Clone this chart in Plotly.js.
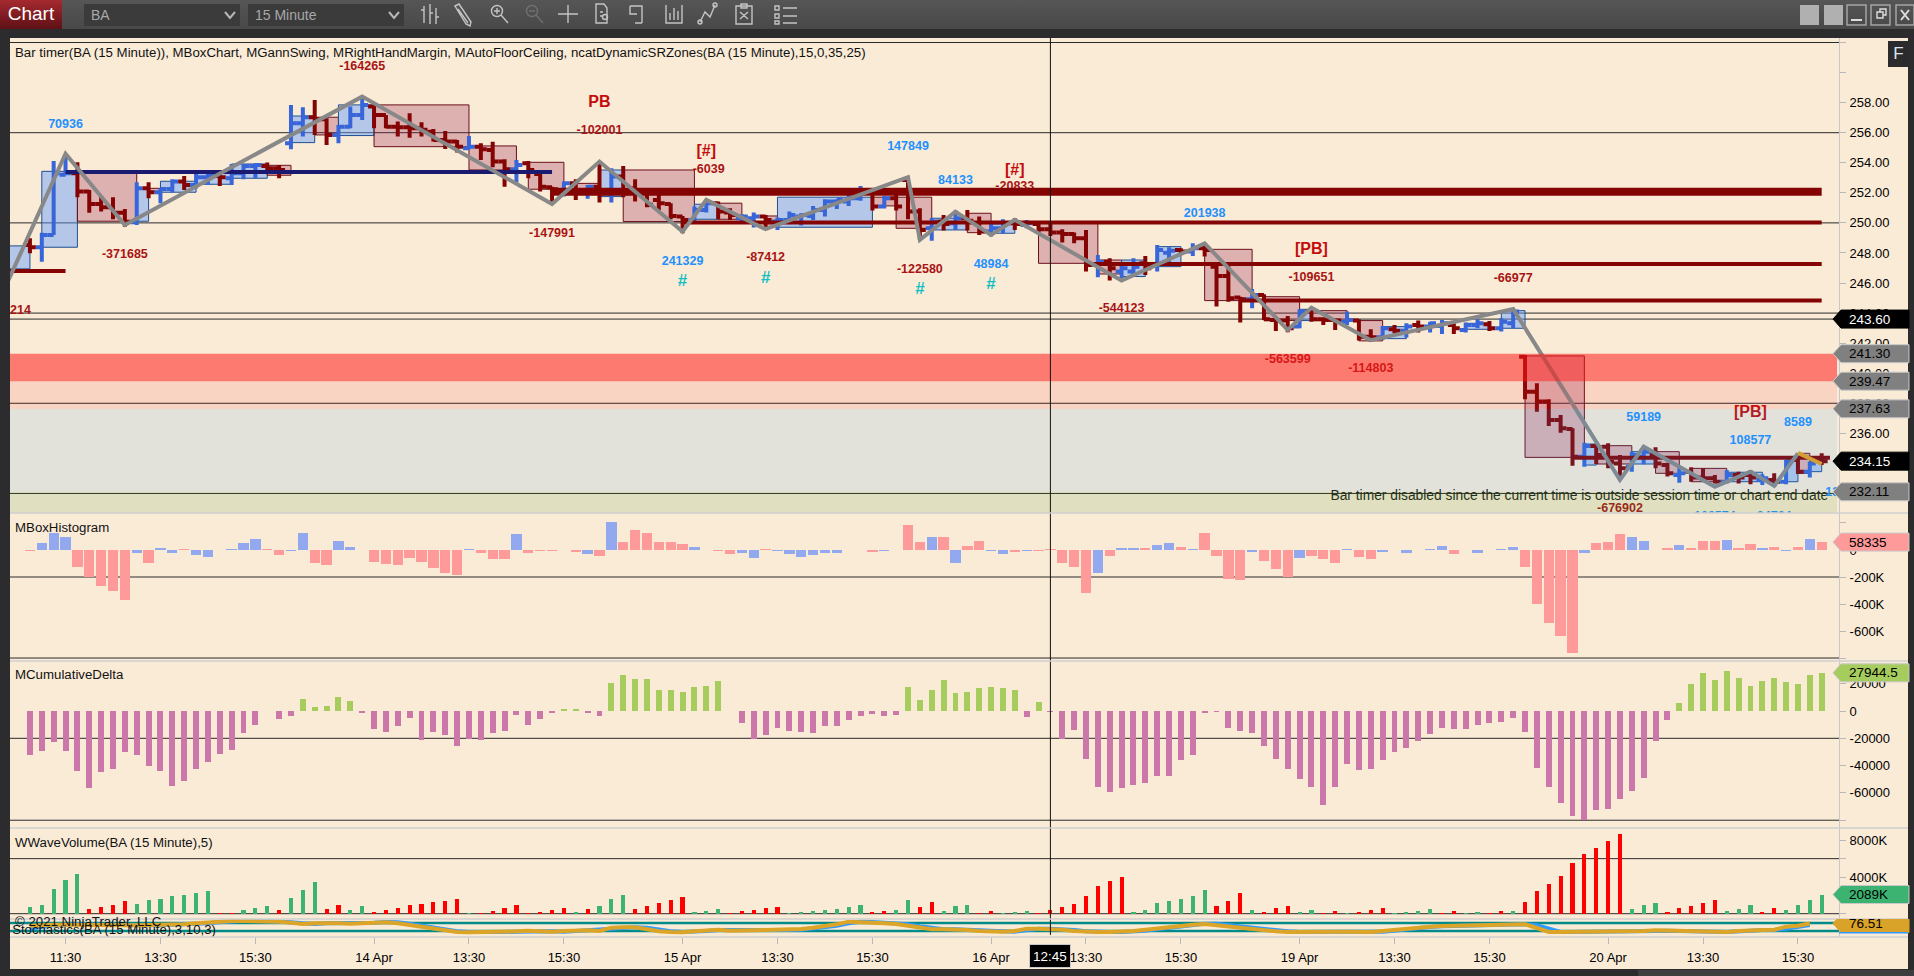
<!DOCTYPE html>
<html>
<head>
<meta charset="utf-8">
<script src="https://cdn.plot.ly/plotly-3.0.1.min.js"></script>
<style>
html,body{margin:0;padding:0;width:1914px;height:976px;overflow:hidden;background:#2c2c2e;font-family:"Liberation Sans",Arial,sans-serif}
.abs{position:absolute}
#bar{left:0;top:0;width:1914px;height:29px;background:linear-gradient(#565656,#484848)}
#btn{left:0;top:0;width:62px;height:29px;background:linear-gradient(#a52a30,#5e1015);color:#fff;font-size:19px;line-height:28px;text-align:center}
.dd{top:4px;height:22px;width:156px;background:#3b3b3b;color:#a8a8a8;font-size:14px;line-height:22px;text-indent:7px}
#paper{left:10px;top:38px;width:1898px;height:931px;background:#faebd7}
#F{left:1888px;top:41px;width:21px;height:26px;background:#2b2b2d;color:#d8e4f0;font-size:17px;line-height:26px;text-align:center}
#chart{left:0;top:0;width:1914px;height:976px}
#scroll{left:1638px;top:970px;width:276px;height:6px;background:#3d3d3f}
</style>
</head>
<body>
<div class="abs" id="paper"></div>
<div class="abs" id="bar"></div>
<div class="abs" id="btn">Chart</div>
<div class="abs dd" style="left:84px">BA</div>
<div class="abs dd" style="left:248px">15 Minute</div>
<svg class="abs" style="left:0;top:0" width="1914" height="29" fill="none" stroke="#c4c4c4" stroke-width="1.4">
  <path d="M225 12l5 6 5-6M389 12l5 6 5-6" stroke="#b8b8b8" stroke-width="2"/>
  <path d="M424 6v17M430 4v20M436 8v16M421 10h3M430 13h3M436 17h3"/>
  <path d="M455 6l4-2 12 18-1 4-4-2zM458 9l10 14"/>
  <circle cx="497" cy="11" r="5.5"/><path d="M501 15l7 8M494 11h6M497 8v6"/>
  <circle cx="532" cy="11" r="5.5" stroke="#707070"/><path d="M536 15l7 8M529 11h6" stroke="#707070"/>
  <path d="M568 5v18M558 14h20"/>
  <path d="M596 4h8l3 4v15h-11zM600 12h3M600 16h2"/><circle cx="605" cy="17" r="2.5"/>
  <path d="M630 6h12v17M630 6v8h7M635 23h7"/>
  <path d="M666 5v18h16V5M670 20v-7M674 20V8M678 20v-9"/>
  <path d="M700 22l5-10 5 5 5-12"/><circle cx="700" cy="22" r="2"/><circle cx="715" cy="5" r="2"/>
  <path d="M736 6h16v18h-16zM741 4h6v4h-6zM740 12l8 7M748 12l-8 7"/>
  <path d="M775 6h4v4h-4zM775 14h4v4h-4zM775 21h4v3h-4zM783 8h14M783 16h14M783 23h14"/>
  <rect x="1800" y="5" width="19" height="20" fill="#b0b0b0" stroke="none"/>
  <rect x="1824" y="5" width="19" height="20" fill="#b0b0b0" stroke="none"/>
  <rect x="1847" y="5" width="19" height="20" stroke="#aaa"/><path d="M1851 20h11" stroke="#ddd" stroke-width="2"/>
  <rect x="1871" y="5" width="19" height="20" stroke="#aaa"/><path d="M1877 12h6v6h-6zM1880 12V9h6v6h-3" stroke="#ddd"/>
  <rect x="1896" y="5" width="18" height="20" stroke="#aaa"/><path d="M1901 10l8 10M1909 10l-8 10" stroke="#ddd" stroke-width="2"/>
</svg>
<div class="abs" id="scroll"></div>
<div class="abs" id="chart"></div>
<div class="abs" id="F">F</div>
<script>
// ---- time scale ----
const firstBar = -3;
const tickBars = [0,8,16,26,34,42,52,60,68,78,86,94,104,112,120,130,138,146];
const tickNames = ['11:30','13:30','15:30','14 Apr','13:30','15:30','15 Apr','13:30','15:30','16 Apr','13:30','15:30','19 Apr','13:30','15:30','20 Apr','13:30','15:30'];
const cursorBar = 83, cursorName = '12:45';

// ---- price bars, from bar -3 to bar 148 ----
const opens = [248.53,248.38,249.20,253.20,253.30,252.08,251.26,251.04,250.68,250.04,
252.30,252.04,252.26,252.75,252.52,253.03,253.12,252.97,253.30,253.79,
253.79,253.63,255.30,256.63,257.03,256.89,255.85,256.40,257.18,257.74,
257.18,256.40,256.36,256.30,256.07,255.52,255.41,254.96,255.07,254.85,
254.08,253.57,253.97,253.26,252.37,251.97,252.63,252.08,252.41,251.97,
253.08,252.30,251.97,251.53,251.26,250.42,250.20,250.86,251.31,250.69,
250.31,250.31,250.42,250.09,250.20,250.42,250.46,250.86,251.42,251.42,
251.64,252.08,251.09,251.64,252.86,250.75,249.64,250.10,249.97,250.31,
249.97,249.42,249.64,249.97,249.86,249.93,249.57,249.36,249.26,248.98,
247.20,247.42,246.76,246.76,247.31,247.20,248.02,248.20,248.09,248.31,
247.09,246.47,245.03,244.92,245.21,243.54,243.50,243.10,244.10,243.59,
243.54,243.43,243.50,242.43,242.39,242.92,242.83,243.21,243.10,243.14,
243.21,242.88,243.21,243.25,242.99,243.32,241.10,238.77,238.11,236.89,
236.29,234.45,235.16,235.11,234.00,233.78,234.45,234.56,233.89,233.23,
233.45,233.07,233.01,232.78,233.23,233.23,232.90,232.90,232.78,234.23,
233.45,234.25];
const highs = [248.97,249.35,254.12,254.59,254.03,252.19,251.75,251.71,250.93,252.70,
252.70,252.30,252.90,253.12,253.30,253.30,253.52,253.92,253.92,253.97,
254.01,253.85,257.85,257.69,258.18,256.96,256.52,257.74,258.45,257.78,
257.18,256.74,257.29,256.69,256.25,256.12,255.52,255.78,255.30,255.39,
254.23,254.19,254.12,253.30,252.41,252.75,252.90,252.52,254.12,253.63,
253.79,252.90,252.30,251.86,251.31,250.46,251.09,251.57,251.42,250.97,
250.58,250.69,250.53,250.36,250.75,250.64,251.13,251.57,251.57,251.86,
252.46,252.30,251.79,251.86,253.08,250.97,250.31,250.53,250.82,250.86,
250.42,249.93,250.24,250.31,250.20,250.09,249.97,249.57,249.36,249.53,
247.87,247.65,247.20,247.65,247.80,248.53,248.38,248.31,248.64,248.64,
247.20,247.31,245.09,245.60,245.25,243.65,243.81,244.25,244.38,243.72,
243.65,244.10,243.59,242.92,243.14,243.21,243.32,243.50,243.43,243.54,
243.32,243.37,243.59,243.48,243.65,244.32,241.21,239.33,238.26,237.22,
236.33,235.38,235.29,235.34,234.56,234.78,235.11,235.07,234.05,233.67,
233.74,233.67,233.23,233.56,233.45,233.56,233.27,233.34,234.23,234.67,
234.11,234.67];
const lows = [247.98,247.42,249.20,253.19,251.71,250.68,250.75,250.24,249.75,249.86,
251.64,251.30,252.04,252.19,252.28,252.52,252.46,252.52,252.90,252.97,
253.52,252.97,254.90,255.74,255.85,255.19,255.30,256.30,256.85,256.30,
256.30,255.74,255.67,255.74,255.41,254.92,254.68,254.90,254.19,253.70,
252.41,252.68,252.97,252.08,251.19,251.75,251.52,251.61,251.35,251.35,
251.71,251.42,251.04,250.86,250.24,249.31,249.93,250.69,250.24,250.20,
250.09,249.69,249.75,249.53,249.91,249.82,250.20,250.42,250.93,251.13,
251.48,250.82,250.95,250.82,250.24,248.87,248.82,249.49,249.53,249.49,
249.20,249.09,249.31,249.53,249.64,249.31,249.13,248.69,248.64,246.76,
246.38,246.16,246.20,246.43,246.54,246.76,247.31,247.87,247.80,247.76,
244.43,244.76,243.37,244.32,243.54,242.81,242.72,242.99,243.43,243.21,
242.88,243.21,242.17,242.10,242.21,242.66,242.37,242.70,242.70,242.61,
242.61,242.70,242.99,242.81,242.77,242.99,238.26,237.44,236.49,236.04,
233.85,233.78,233.96,233.67,232.90,233.45,233.94,233.67,233.12,232.72,
232.78,232.78,232.67,232.67,232.67,232.61,232.56,232.45,232.61,233.29,
233.07,233.89];
const closes = [248.38,249.20,253.30,253.30,252.08,251.26,251.04,250.68,250.08,252.30,
252.04,252.26,252.75,252.52,253.03,253.12,253.03,253.30,253.79,253.85,
253.63,253.52,256.63,257.03,256.89,255.85,256.40,257.18,257.85,257.18,
256.40,256.36,256.30,256.19,255.52,255.41,255.07,255.07,254.90,254.08,
253.57,253.85,253.52,252.41,252.24,252.63,252.19,252.41,251.97,253.08,
251.97,251.97,251.20,251.31,250.46,250.20,250.86,251.31,250.75,250.53,
250.42,250.42,250.20,250.20,250.53,250.53,250.86,251.42,251.57,251.64,
252.08,251.09,251.64,251.09,250.75,249.53,250.10,249.93,250.31,250.15,
249.42,249.64,249.97,249.93,249.97,249.57,249.36,249.26,248.98,247.20,
247.42,246.98,246.98,247.09,246.98,248.20,248.15,248.09,248.31,248.20,
246.47,244.98,244.92,245.21,243.59,243.50,242.99,244.10,243.59,243.54,
243.50,243.54,242.43,242.39,242.99,242.83,243.10,243.10,243.32,243.32,
242.99,243.21,243.32,242.99,243.43,244.10,238.77,238.11,236.89,236.33,
234.45,235.16,234.56,234.11,233.67,234.56,234.78,234.00,233.34,233.34,
233.07,233.01,232.78,233.23,233.07,233.07,233.01,232.78,234.11,233.45,
234.00,234.15];

// ---- MBoxChart boxes: first bar, last bar, high, low, direction ----
const boxStart = [-5,-2,1,6,7,8,11,14,17,19,21,23,26,34,39,43,45,47,53,55,59,60,68,70,73,76,78,82,87,89,92,96,101,104,105,109,111,118,121,123,128,129,132,134,137,140,145,146,147];
const boxEnd   = [-3,1,6,7,8,11,14,17,19,21,23,26,34,38,42,45,47,53,55,57,60,68,70,73,76,78,80,87,89,91,94,100,104,105,108,111,113,120,123,128,129,132,134,136,140,143,146,147,148];
const boxHigh  = [248.47,253.43,253.30,252.30,252.30,252.77,253.30,253.92,253.83,257.11,257.03,257.85,257.85,255.12,254.03,252.63,253.52,253.52,251.24,251.31,250.46,251.71,251.71,251.71,250.31,250.64,249.93,249.97,247.53,247.53,248.42,248.24,245.09,244.25,244.16,243.50,243.10,243.32,244.16,241.15,235.29,235.18,234.78,234.78,233.67,233.41,234.23,234.67,234.11];
const boxLow   = [246.94,248.38,250.11,250.11,252.08,252.04,252.57,252.97,253.17,255.34,255.85,255.81,255.07,253.52,252.24,252.19,251.75,250.09,250.24,250.24,249.75,249.71,251.13,249.64,249.53,249.35,249.31,247.31,246.60,246.43,247.09,244.83,243.50,243.50,243.50,242.15,242.30,242.92,242.99,234.40,233.89,233.96,233.96,233.34,232.78,232.78,232.78,233.34,233.45];
const boxUp    = [1,1,0,1,0,1,1,1,0,1,0,1,0,0,0,0,1,0,1,0,0,1,0,0,1,0,1,0,0,1,1,0,0,1,0,0,1,1,1,0,1,0,1,0,0,1,1,0,1];

// ---- MGannSwing turning points ----
const swingBar   = [-4.8,0,5,25,41,45,52,54,59,71,72,75,78,80,89,96,103,105,110,122,131,133,139,142,144,146];
const swingPrice = [246.2,254.6,249.86,258.4,251.26,254.08,249.42,251.53,249.58,253.04,248.87,250.75,249.2,250.2,246.16,248.64,242.88,244.36,242.2,244.27,232.9,235.11,232.45,233.45,232.5,234.67];
const swingTailBar = [146,148], swingTailPrice = [234.7,233.96];

// ---- support and resistance levels ----
const levelPrice = [252.07,250.03,247.26,244.83,234.38,246.8];
const levelStart = [41,52,86,99,127,-5];
const levelEnd   = [148,148,148,148,148.7,0];
const navyPrice = 253.39, navyStart = 0, navyEnd = 41;

// ---- auto floor / ceiling zones ----
const zoneTop = [241.30,239.47,237.63,232.11];
const zoneBottom = [239.47,237.63,232.11,230.70];
const priceGrid = [262,256,250,244,243.6,238,232];

// ---- labels on the price panel ----
const labelBar = [0,25,45,41,5,54.2,59,72,89,105,122,103,110,131,80,-3.8, 71,75,52,78,96,133,146,142,139,144, 45,54,80,105,142, 52,59,72,78];
const labelPrice = [256.5,260.35,256.1,249.3,247.9,253.52,247.64,246.9,244.27,246.31,246.27,240.88,240.26,230.97,252.41,244.14, 255.05,252.8,247.42,247.24,250.6,237.06,236.69,235.49,230.45,230.45, 258.0,254.74,253.45,248.2,237.37, 246.1,246.3,245.54,245.87];
const labelText = ['70936','-164265','-102001','-147991','-371685','-6039','-87412','-122580','-544123','-109651','-66977','-563599','-114803','-676902','-20833','214','147849','84133','241329','48984','201938','59189','8589','108577','108574','24704','PB','[#]','[#]','[PB]','[PB]','#','#','#','#'];
const labelKind = ['b','r','r','r','r','r','r','r','r','r','r','r','r','r','r','r','b','b','b','b','b','b','b','b','b','b','p','p','p','p','p','t','t','t','t'];

// ---- MBoxHistogram (thousands) and its side: 1 blue, 0 red ----
const histValues = [-7,52,126,96,-126,-200,-267,-304,-370,-22,-96,15,-22,7,-37,-52,0,7,52,81,7,-37,-7,126,-96,-111,67,22,0,-89,-104,-111,-59,-89,-133,-170,-185,7,-22,-67,-67,119,-22,-7,-7,0,-15,-30,-44,207,59,148,126,59,59,44,22,0,-7,-30,-22,-59,7,-7,-30,-52,-37,-22,-22,0,0,-15,-7,0,185,59,96,96,-96,30,67,-7,-30,-15,-7,-7,5,-96,-126,-319,-170,-44,15,15,15,37,52,22,7,126,-44,-215,-222,-15,-81,-141,-200,-59,-44,-67,-96,7,-52,-67,-15,0,-22,0,7,30,-30,0,-22,0,7,22,-126,-400,-541,-637,-763,-22,52,59,119,96,67,0,15,37,15,67,67,74,15,44,15,22,-7,22,81,58.335];
const histBlue = [0,1,1,1,0,0,0,0,0,1,
0,1,1,0,1,1,0,1,1,1,
0,0,1,1,0,0,1,1,0,0,
0,0,0,0,0,0,0,1,0,0,
0,1,0,0,0,0,0,1,0,1,
0,0,0,0,0,0,1,0,0,0,
1,1,0,1,1,1,1,1,1,0,
0,0,1,0,0,0,1,0,1,0,
0,1,1,0,1,0,0,0,0,0,
1,0,1,1,0,1,1,0,1,0,
0,0,0,1,0,0,0,1,0,0,
0,1,0,0,1,0,1,0,1,1,
0,0,1,0,1,1,0,0,0,0,
0,1,0,0,0,1,1,0,0,1,
0,0,0,1,0,0,1,0,1,0,
1,0];

// ---- MCumulativeDelta ----
const deltaValues = [-32200,-29300,-22700,-29300,-43900,-56400,-44700,-42500,-30000,-32200,-40300,-43900,-54900,-51200,-42500,-37300,-31500,-28500,-16100,-10200,0,-5900,-3700,8800,2900,3700,10200,7300,-1500,-13200,-15400,-11000,-5100,-21200,-15400,-17600,-25600,-20500,-21200,-16100,-14600,-2900,-10200,-5900,-1500,1500,1500,-1500,-3700,20500,26400,23400,23400,15400,15400,13900,17600,18300,22000,0,-8800,-20500,-17600,-12400,-14600,-15400,-16100,-11000,-11000,-6600,-3700,-2200,-3700,-2900,17600,8100,15400,22700,12900,13900,16800,17600,16800,15400,-4400,6600,-500,-20500,-13900,-35100,-55600,-59300,-56400,-54200,-52700,-47600,-47600,-35900,-32200,-1500,-700,-12400,-14600,-16100,-25600,-35100,-42500,-49800,-55600,-68800,-55600,-38800,-43200,-42500,-35900,-30000,-27100,-22000,-16800,-12400,-13200,-13200,-10200,-8800,-8100,-5100,-15400,-41700,-55600,-67300,-76900,-79800,-72500,-71700,-64400,-58600,-49000,-22000,-6600,5900,19800,27800,22700,29300,24200,18300,22000,24200,21200,19800,26400,27944.5];

// ---- WWaveVolume (thousands) and rising flag: 1 green, 0 red ----
const volValues = [727,945,2690,3672,4327,509,727,945,1382,1054,1491,1600,1927,2036,2254,2472,73,73,400,618,836,400,1709,2582,3454,509,945,400,836,182,400,618,945,1054,1273,1382,1600,73,73,291,618,945,73,182,400,618,182,509,836,1600,2036,509,836,1164,1491,1818,182,291,509,73,291,400,618,727,73,182,291,400,509,727,945,182,291,400,1491,727,1273,291,836,945,73,291,73,182,291,73,400,727,1054,1927,3018,3563,4000,182,400,1164,1382,1600,1927,2582,836,1382,2254,400,182,618,836,182,400,73,291,73,182,400,618,73,182,291,509,73,291,73,182,73,291,291,1273,2472,3236,4109,5527,6509,7163,7927,8690,509,945,1164,182,618,836,1164,1491,291,509,945,182,618,400,945,1491,2089];
const volUp = [1,1,1,1,1,0,0,0,0,1,
1,1,1,1,1,1,0,0,1,1,
1,0,1,1,1,0,0,1,1,0,
0,0,0,0,0,0,0,1,0,0,
0,0,0,0,0,0,1,0,1,1,
1,0,0,0,0,0,1,1,1,0,
0,0,0,0,1,1,1,1,1,1,
1,0,0,1,1,0,0,1,1,1,
0,0,1,1,1,0,0,0,0,0,
0,0,0,1,1,1,1,1,1,1,
0,0,0,1,0,0,0,1,1,0,
0,1,0,0,0,1,1,1,1,0,
0,1,1,0,0,1,0,0,0,0,
0,0,0,0,0,1,1,1,0,0,
0,0,0,1,1,1,0,0,1,1,
1,1];

// ---- Stochastics ----
const stochK = [60,65,67.5,67.5,65,62.5,60,60,62.5,62.5,62.5,65,67.5,70,77.5,85,95,95,95,95,95,90,82.5,72.5,77.5,80,77.5,75,80,87.5,85,77.5,65,50,37.5,20,12.5,10,10,12.5,12.5,17.5,22.5,17.5,15,20,25,25,20,45,47.5,47.5,32.5,17.5,12.5,10,17.5,27.5,30,22.5,20,25,27.5,27.5,27.5,35,45,55,70,90,87.5,80,77.5,72.5,60,45,32.5,32.5,32.5,27.5,20,15,15,20,37.5,37.5,37.5,30,20,15,12.5,12.5,12.5,20,30,40,50,57.5,67.5,72.5,62.5,52.5,42.5,32.5,25,17.5,12.5,15,17.5,20,15,15,12.5,12.5,20,30,40,47.5,52.5,57.5,60,62.5,65,65,67.5,70,70,42.5,12.5,12.5,12.5,12.5,12.5,12.5,12.5,12.5,20,25,22.5,20,17.5,15,12.5,12.5,20,27.5,27.5,30,52.5,60,76.51];
const stochD = [32.5,52.5,62.5,70,70,67.5,65,62.5,60,60,62.5,62.5,65,67.5,72.5,77.5,85,92.5,97,97,95,92.5,85,77.5,72.5,77.5,78,77.5,77.5,82.5,87.5,85,75,60,47.5,32.5,17.5,12.5,10,10,12.5,15,17.5,20,17.5,15,20,25,25,30,42.5,47.5,45,30,17.5,12.5,12.5,20,27.5,27.5,22.5,20,25,27.5,27.5,30,37.5,47.5,60,77.5,90,87.5,82.5,77.5,70,55,42.5,32.5,32.5,30,25,17.5,15,15,25,37.5,37.5,35,27.5,17.5,12.5,12.5,12.5,15,22.5,32.5,42.5,52.5,62.5,75,75,65,52.5,42.5,32.5,25,17.5,12.5,15,17.5,17.5,15,15,12.5,15,22.5,32.5,42.5,50,55,57.5,60,62.5,65,65,67.5,70,62.5,37.5,12.5,12.5,12.5,12.5,12.5,12.5,12.5,15,20,22.5,22.5,20,17.5,15,12.5,15,22.5,27.5,27.5,37.5,52.5,65];
const stochLevels = [80,20];

// ---- readouts on the right hand margin ----
const zoneReadouts = [241.30,239.47,237.63,232.11];
const lastPrice = 234.15, crossPrice = 243.60;
const lastHist = 58.335, lastDelta = 27944.5, lastVol = 2089, lastStoch = 76.51;

// ---- ticks ----
const priceTicks = [262,260,258,256,254,252,250,248,246,244,242,240,238,236,234,232];
const priceTickText = ['','','258.00','256.00','254.00','252.00','250.00','248.00','246.00','244.00','242.00','240.00','238.00','236.00','234.00','232.00'];
const histTicks = [200,0,-200,-400,-600,-800], histTickText = ['','0','-200K','-400K','-600K',''];
const deltaTicks = [20000,0,-20000,-40000,-60000,-80000], deltaTickText = ['20000','0','-20000','-40000','-60000',''];
const volTicks = [8000,6000,4000,0], volTickText = ['8000K','','4000K',''];
const histGrid = [-200,-800], deltaGrid = [-20000,-80000], volGrid = [6000,0];

const headerText = 'Bar timer(BA (15 Minute)), MBoxChart, MGannSwing, MRightHandMargin, MAutoFloorCeiling, ncatDynamicSRZones(BA (15 Minute),15,0,35,25)';
const timerText = 'Bar timer disabled since the current time is outside session time or chart end date';

// ======== drawing ========
const FONT = '"Liberation Sans", Arial, sans-serif';
const W = 1914, H = 976, L = 10, R = 1839, T = 38, B = 937;
const pw = R - L, ph = B - T;
const px = v => (v - L) / pw;
const py = v => (B - v) / ph;
const dom = (a, b) => [py(b), py(a)];
const bars = opens.map((_, i) => firstBar + i);
const DARK = '#2a2a2a';
const XL = -4.68, XR = 149.46;

const traces = [];
// price
traces.push({type:'ohlc',x:bars,open:opens,high:highs,low:lows,close:closes,xaxis:'x',yaxis:'y',tickwidth:0.5,
  increasing:{line:{color:'#3866d8',width:4}},decreasing:{line:{color:'#840404',width:4}},hoverinfo:'skip'});
// labels
const kindColor = {r:'#a81414',b:'#1e90ff',p:'#c40c0c',t:'#12bfc4'};
const kindSize = {r:12.5,b:12.5,p:16,t:17};
traces.push({type:'scatter',mode:'text',x:labelBar,y:labelPrice,text:labelText,xaxis:'x',yaxis:'y',cliponaxis:true,
  textposition:'middle center',hoverinfo:'skip',
  textfont:{family:FONT,weight:'bold',color:labelKind.map(k=>kindColor[k]),size:labelKind.map(k=>kindSize[k])}});
traces.push({type:'scatter',mode:'text',x:[148.55],y:[231.8],text:[timerText],xaxis:'x',yaxis:'y',cliponaxis:true,
  textposition:'middle left',hoverinfo:'skip',textfont:{family:FONT,size:13.8,color:'#1a1a1a'}});
traces.push({type:'scatter',mode:'text',x:[148.3],y:[232.03],text:['13742'],xaxis:'x',yaxis:'y',cliponaxis:true,
  textposition:'middle right',hoverinfo:'skip',textfont:{family:FONT,weight:'bold',size:12.5,color:'#1e90ff'}});
// levels
const levelWidth = [8,4,4,4,4,4];
levelPrice.forEach((p,i)=>traces.push({type:'scatter',mode:'lines',x:[levelStart[i],levelEnd[i]],y:[p,p],xaxis:'x',yaxis:'y',hoverinfo:'skip',
  line:{color:'#840404',width:levelWidth[i]}}));
traces.push({type:'scatter',mode:'lines',x:[navyStart,navyEnd],y:[navyPrice,navyPrice],xaxis:'x',yaxis:'y',hoverinfo:'skip',line:{color:'#1a1a70',width:4}});
// swing
traces.push({type:'scatter',mode:'lines',x:swingBar,y:swingPrice,xaxis:'x',yaxis:'y',hoverinfo:'skip',line:{color:'#888888',width:4,simplify:false}});
traces.push({type:'scatter',mode:'lines',x:swingTailBar,y:swingTailPrice,xaxis:'x',yaxis:'y',hoverinfo:'skip',line:{color:'#e8a01e',width:4}});
// lower panels
traces.push({type:'bar',x:bars,y:histValues,xaxis:'x',yaxis:'y2',width:0.87,hoverinfo:'skip',
  marker:{color:histBlue.map(b=>b?'#93a9ef':'#ff9a9a'),line:{width:0}}});
traces.push({type:'bar',x:bars,y:deltaValues,xaxis:'x',yaxis:'y3',width:0.5,hoverinfo:'skip',
  marker:{color:deltaValues.map(v=>v>=0?'#a6cc5e':'#cc77aa'),line:{width:0}}});
traces.push({type:'bar',x:bars,y:volValues,xaxis:'x',yaxis:'y4',width:0.35,hoverinfo:'skip',
  marker:{color:volUp.map(b=>b?'#3cb371':'#ff0000'),line:{width:0}}});
stochLevels.forEach(v=>traces.push({type:'scatter',mode:'lines',x:[XL,XR],y:[v,v],xaxis:'x',yaxis:'y5',hoverinfo:'skip',line:{color:'#008b8b',width:2.5}}));
traces.push({type:'scatter',mode:'lines',x:bars.slice(0,stochD.length),y:stochD,xaxis:'x',yaxis:'y5',hoverinfo:'skip',line:{color:'#2f9bff',width:4}});
traces.push({type:'scatter',mode:'lines',x:bars.slice(0,stochK.length),y:stochK,xaxis:'x',yaxis:'y5',hoverinfo:'skip',line:{color:'#dca528',width:4}});
traces.push({type:'scatter',mode:'text',x:[-4.5],y:[20],text:['Stochastics(BA (15 Minute),3,10,3)'],xaxis:'x',yaxis:'y5',cliponaxis:true,
  textposition:'middle right',hoverinfo:'skip',textfont:{family:FONT,size:13.2,color:'#111'}});

const shapes = [];
const hline = (v,yref) => shapes.push({type:'line',layer:'below',xref:'paper',x0:0,x1:1,yref,y0:v,y1:v,line:{color:DARK,width:1}});
priceGrid.forEach(v=>hline(v,'y'));
histGrid.forEach(v=>hline(v,'y2'));
deltaGrid.forEach(v=>hline(v,'y3'));
volGrid.forEach(v=>hline(v,'y4'));
boxStart.forEach((s,i)=>shapes.push({type:'rect',layer:'below',xref:'x',yref:'y',x0:s,x1:boxEnd[i],y0:boxLow[i],y1:boxHigh[i],
  fillcolor:boxUp[i]?'rgba(95,155,255,0.45)':'rgba(150,30,80,0.28)',line:{color:boxUp[i]?'#1f4f90':'#6b0f1a',width:1}}));
const zoneFill = ['rgba(255,26,24,0.54)','rgba(255,26,24,0.11)','rgba(42,153,245,0.11)','rgba(80,160,60,0.15)'];
zoneTop.forEach((t,i)=>shapes.push({type:'rect',layer:'above',xref:'paper',x0:0,x1:px(1837),yref:'y',y0:zoneBottom[i],y1:t,fillcolor:zoneFill[i],line:{width:0}}));
// cursor
shapes.push({type:'line',layer:'above',xref:'x',x0:cursorBar,x1:cursorBar,yref:'paper',y0:py(935),y1:1,line:{color:'#111',width:1}});
// panel separators
[513,661,828,919,937].forEach(y=>shapes.push({type:'line',layer:'above',xref:'paper',x0:0,x1:px(1908),yref:'paper',y0:py(y),y1:py(y),line:{color:'#cfcfcf',width:1.5}}));

// right hand margin tags
const ann = [];
function tag(val,yref,fill,txt,tcolor,border){
  shapes.push({type:'path',layer:'above',xref:'paper',xanchor:px(1833),xsizemode:'pixel',yref,yanchor:val,ysizemode:'pixel',
    path:'M0,0 L8,-9 L76,-9 L76,9 L8,9 Z',fillcolor:fill,line:{color:border||fill,width:1}});
  ann.push({xref:'paper',yref,x:px(1847),y:val,xanchor:'left',yanchor:'middle',showarrow:false,text:txt,font:{family:FONT,size:13.5,color:tcolor}});
}
tag(crossPrice,'y','#000000',crossPrice.toFixed(2),'#fff');
zoneReadouts.forEach(v=>tag(v,'y','#808080',v.toFixed(2),'#000','#c8c8c8'));
tag(lastPrice,'y','#000000',lastPrice.toFixed(2),'#fff');
tag(lastHist,'y2','#ff9a9a',String(Math.round(lastHist*1000)),'#000','#c8c8c8');
tag(lastDelta,'y3','#a6cc5e',String(lastDelta),'#000','#c8c8c8');
tag(lastVol,'y4','#3cb371',lastVol+'K','#000','#c8c8c8');
tag(lastStoch,'y5','#d9a228',String(lastStoch),'#000');
// stochastic D readout sliver
shapes.push({type:'line',layer:'above',xref:'paper',x0:px(1839),x1:px(1908),yref:'paper',y0:py(932.8),y1:py(932.8),line:{color:'#2f9bff',width:1.5}});

const tx = (s,y) => ({xref:'paper',yref:'paper',x:px(13),y:py(y),xanchor:'left',yanchor:'middle',showarrow:false,text:s,font:{family:FONT,size:13.25,color:'#111'}});
ann.push(tx(headerText,52),tx('MBoxHistogram',527),tx('MCumulativeDelta',674),tx('WWaveVolume(BA (15 Minute),5)',842),tx('© 2021 NinjaTrader, LLC',921));
ann.push({xref:'x',yref:'paper',x:cursorBar,y:py(956),xanchor:'center',yanchor:'middle',showarrow:false,text:cursorName,
  font:{family:FONT,size:13.5,color:'#fff'},bgcolor:'#000',bordercolor:'#c8c8c8',borderwidth:1,width:38,height:20});

const yax = (a,b,range,tv,tt) => ({domain:dom(a,b),range,side:'right',anchor:'x',fixedrange:true,showgrid:false,zeroline:false,
  tickmode:'array',tickvals:tv||[],ticktext:tt||[],ticks:tv?'outside':'',ticklen:6,tickwidth:1,tickcolor:'#b8b8b8',ticklabelstandoff:1,
  showline:true,linecolor:'#c8c8c8',linewidth:1,tickfont:{family:FONT,size:13,color:'#000'}});

const layout = {
  width:W,height:H,margin:{l:L,r:W-R,t:T,b:H-B,pad:0},paper_bgcolor:'rgba(0,0,0,0)',plot_bgcolor:'rgba(0,0,0,0)',
  showlegend:false,hovermode:false,dragmode:false,bargap:0,font:{family:FONT},
  xaxis:{domain:[0,1],range:[XL,XR],anchor:'y5',fixedrange:true,rangeslider:{visible:false},showgrid:false,zeroline:false,
    tickmode:'array',tickvals:tickBars,ticktext:tickNames,ticks:'outside',ticklen:6,tickwidth:1,tickcolor:'#b8b8b8',ticklabelstandoff:2,
    showline:false,tickfont:{family:FONT,size:13,color:'#000'}},
  yaxis:yax(T,513,[230.70,262.30],priceTicks,priceTickText),
  yaxis2:yax(513,661,[-822,274],histTicks,histTickText),
  yaxis3:yax(662,828,[-85700,35900],deltaTicks,deltaTickText),
  yaxis4:yax(828,919,[-578,9340],volTicks,volTickText),
  yaxis5:yax(919,937,[-25,110]),
  shapes,annotations:ann
};
Plotly.newPlot('chart',traces,layout,{staticPlot:true,displayModeBar:false,responsive:false});
</script>
</body>
</html>
